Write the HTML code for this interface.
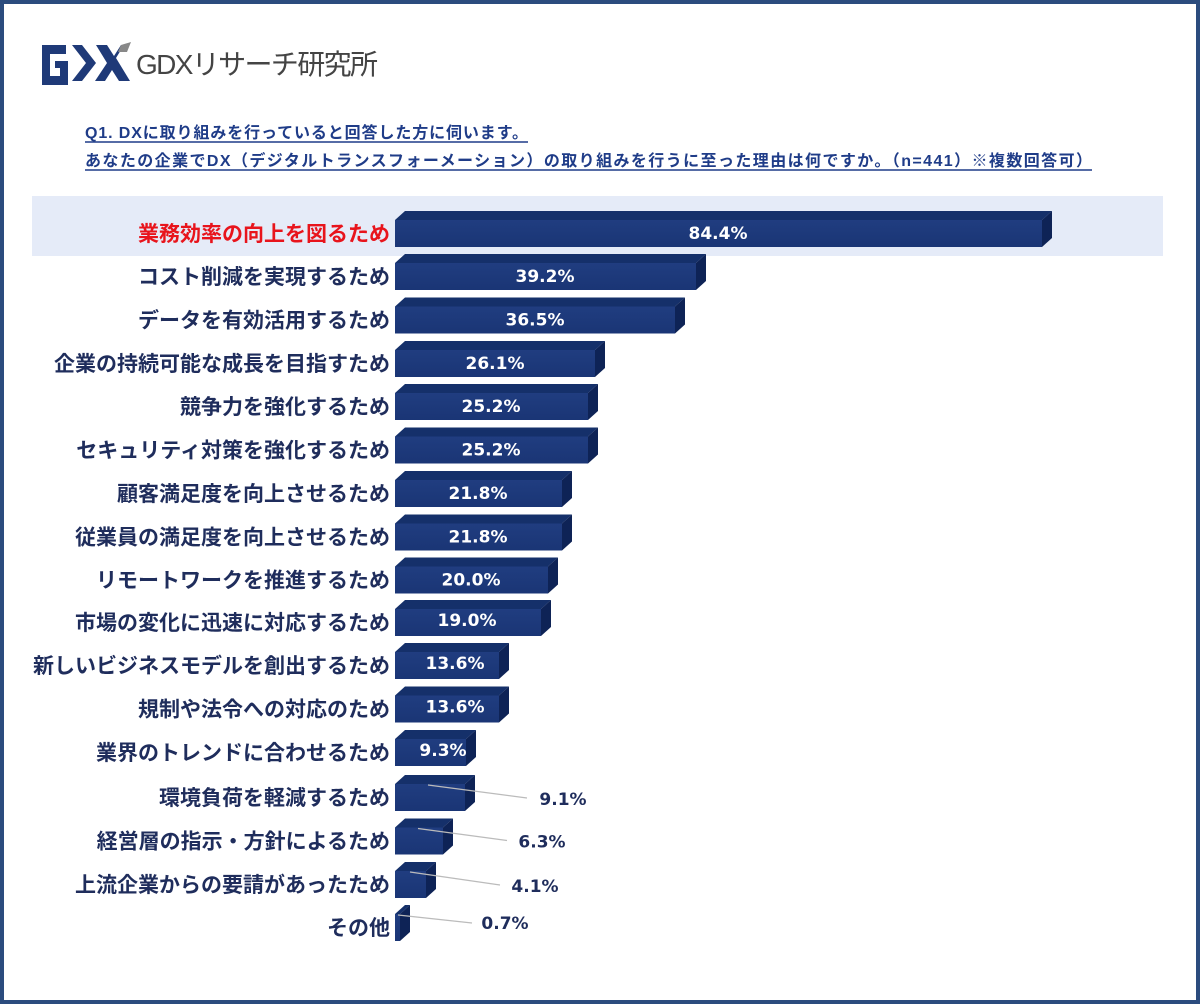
<!DOCTYPE html>
<html><head><meta charset="utf-8"><style>
html,body{margin:0;padding:0;background:#fff}
svg{display:block}
.l{font-family:"Liberation Sans","Noto Sans CJK JP",sans-serif;font-size:21px;font-weight:bold;fill:#1f2d5c;text-anchor:end}
.v{font-family:"DejaVu Sans","Liberation Sans",sans-serif;font-size:17px;font-weight:bold;fill:#fff;text-anchor:middle}
.o{font-family:"DejaVu Sans","Liberation Sans",sans-serif;font-size:17px;font-weight:bold;fill:#1f2d5c;text-anchor:middle}
.t{font-family:"Liberation Sans","Noto Sans CJK JP",sans-serif;font-size:16px;font-weight:bold;fill:#1f3c88}
.f{fill:url(#g)}.tp{fill:#15306a}.sd{fill:#0e2356}
</style></head><body>
<svg width="1200" height="1004" viewBox="0 0 1200 1004" xmlns="http://www.w3.org/2000/svg">
<defs><linearGradient id="g" x1="0" y1="0" x2="0" y2="1"><stop offset="0" stop-color="#203d80"/><stop offset="1" stop-color="#1a3575"/></linearGradient></defs>
<rect x="2" y="2" width="1196" height="1000" fill="#fff" stroke="#2b4c7e" stroke-width="4"/>
<g fill="#1f3a78">
<path d="M42 45 h24 v9 h-16 v22 h10 v-8 h-5 v-7 h13 v24 h-26 z"/>
<path d="M72 45 h10 l14 18 l-14 18 h-10 l14 -18 z"/>
<path d="M96 45 h11 l7 11 l7 -11 h3 l-8 13 l14 23 h-11 l-7 -11 l-7 11 h-10 l12 -18 z"/>
</g>
<polygon points="121,45 131,42 127,52 118,52" fill="#888"/>
<text x="136" y="74" font-family="Liberation Sans,Noto Sans CJK JP,sans-serif" font-size="28" fill="#444" textLength="242">GDXリサーチ研究所</text>
<text class="t" x="85" y="138" textLength="443">Q1. DXに取り組みを行っていると回答した方に伺います。</text>
<line x1="85" y1="142" x2="528" y2="142" stroke="#1f3c88" stroke-width="1.5"/>
<text class="t" x="85" y="166" textLength="1007">あなたの企業でDX（デジタルトランスフォーメーション）の取り組みを行うに至った理由は何ですか。（n=441）※複数回答可）</text>
<line x1="85" y1="170" x2="1092" y2="170" stroke="#1f3c88" stroke-width="1.5"/>
<rect x="32" y="196" width="1131" height="60" fill="#e5ebf8"/>

<g transform="translate(0,233)"><polygon class="tp" points="395,-13 405,-22 1052,-22 1042,-13"/><polygon class="sd" points="1042,-13 1052,-22 1052,5 1042,14"/><rect class="f" x="395" y="-13" width="647" height="27"/><text class="l" x="390" y="8" style="fill:#e8141c">業務効率の向上を図るため</text><text class="v" x="718" y="6">84.4%</text></g>
<g transform="translate(0,276)"><polygon class="tp" points="395,-13 405,-22 706,-22 696,-13"/><polygon class="sd" points="696,-13 706,-22 706,5 696,14"/><rect class="f" x="395" y="-13" width="301" height="27"/><text class="l" x="390" y="8">コスト削減を実現するため</text><text class="v" x="545" y="6">39.2%</text></g>
<g transform="translate(0,319.5)"><polygon class="tp" points="395,-13 405,-22 685,-22 675,-13"/><polygon class="sd" points="675,-13 685,-22 685,5 675,14"/><rect class="f" x="395" y="-13" width="280" height="27"/><text class="l" x="390" y="8">データを有効活用するため</text><text class="v" x="535" y="6">36.5%</text></g>
<g transform="translate(0,363)"><polygon class="tp" points="395,-13 405,-22 605,-22 595,-13"/><polygon class="sd" points="595,-13 605,-22 605,5 595,14"/><rect class="f" x="395" y="-13" width="200" height="27"/><text class="l" x="390" y="8">企業の持続可能な成長を目指すため</text><text class="v" x="495" y="6">26.1%</text></g>
<g transform="translate(0,406)"><polygon class="tp" points="395,-13 405,-22 598,-22 588,-13"/><polygon class="sd" points="588,-13 598,-22 598,5 588,14"/><rect class="f" x="395" y="-13" width="193" height="27"/><text class="l" x="390" y="8">競争力を強化するため</text><text class="v" x="491" y="6">25.2%</text></g>
<g transform="translate(0,449.5)"><polygon class="tp" points="395,-13 405,-22 598,-22 588,-13"/><polygon class="sd" points="588,-13 598,-22 598,5 588,14"/><rect class="f" x="395" y="-13" width="193" height="27"/><text class="l" x="390" y="8">セキュリティ対策を強化するため</text><text class="v" x="491" y="6">25.2%</text></g>
<g transform="translate(0,493)"><polygon class="tp" points="395,-13 405,-22 572,-22 562,-13"/><polygon class="sd" points="562,-13 572,-22 572,5 562,14"/><rect class="f" x="395" y="-13" width="167" height="27"/><text class="l" x="390" y="8">顧客満足度を向上させるため</text><text class="v" x="478" y="6">21.8%</text></g>
<g transform="translate(0,536.5)"><polygon class="tp" points="395,-13 405,-22 572,-22 562,-13"/><polygon class="sd" points="562,-13 572,-22 572,5 562,14"/><rect class="f" x="395" y="-13" width="167" height="27"/><text class="l" x="390" y="8">従業員の満足度を向上させるため</text><text class="v" x="478" y="6">21.8%</text></g>
<g transform="translate(0,579.5)"><polygon class="tp" points="395,-13 405,-22 558,-22 548,-13"/><polygon class="sd" points="548,-13 558,-22 558,5 548,14"/><rect class="f" x="395" y="-13" width="153" height="27"/><text class="l" x="390" y="8">リモートワークを推進するため</text><text class="v" x="471" y="6">20.0%</text></g>
<g transform="translate(0,622)"><polygon class="tp" points="395,-13 405,-22 551,-22 541,-13"/><polygon class="sd" points="541,-13 551,-22 551,5 541,14"/><rect class="f" x="395" y="-13" width="146" height="27"/><text class="l" x="390" y="8">市場の変化に迅速に対応するため</text><text class="v" x="467" y="4">19.0%</text></g>
<g transform="translate(0,665)"><polygon class="tp" points="395,-13 405,-22 509,-22 499,-13"/><polygon class="sd" points="499,-13 509,-22 509,5 499,14"/><rect class="f" x="395" y="-13" width="104" height="27"/><text class="l" x="390" y="8">新しいビジネスモデルを創出するため</text><text class="v" x="455" y="4">13.6%</text></g>
<g transform="translate(0,708.5)"><polygon class="tp" points="395,-13 405,-22 509,-22 499,-13"/><polygon class="sd" points="499,-13 509,-22 509,5 499,14"/><rect class="f" x="395" y="-13" width="104" height="27"/><text class="l" x="390" y="8">規制や法令への対応のため</text><text class="v" x="455" y="4">13.6%</text></g>
<g transform="translate(0,752)"><polygon class="tp" points="395,-13 405,-22 476,-22 466,-13"/><polygon class="sd" points="466,-13 476,-22 476,5 466,14"/><rect class="f" x="395" y="-13" width="71" height="27"/><text class="l" x="390" y="8">業界のトレンドに合わせるため</text><text class="v" x="443" y="4">9.3%</text></g>
<g transform="translate(0,797)"><polygon class="tp" points="395,-13 405,-22 475,-22 465,-13"/><polygon class="sd" points="465,-13 475,-22 475,5 465,14"/><rect class="f" x="395" y="-13" width="70" height="27"/><text class="l" x="390" y="8">環境負荷を軽減するため</text><line x1="428" y1="-12" x2="527" y2="1" stroke="#bbb" stroke-width="1.2"/><text class="o" x="563" y="8">9.1%</text></g>
<g transform="translate(0,840.5)"><polygon class="tp" points="395,-13 405,-22 453,-22 443,-13"/><polygon class="sd" points="443,-13 453,-22 453,5 443,14"/><rect class="f" x="395" y="-13" width="48" height="27"/><text class="l" x="390" y="8">経営層の指示・方針によるため</text><line x1="418" y1="-12" x2="507" y2="0" stroke="#bbb" stroke-width="1.2"/><text class="o" x="542" y="7">6.3%</text></g>
<g transform="translate(0,884)"><polygon class="tp" points="395,-13 405,-22 436,-22 426,-13"/><polygon class="sd" points="426,-13 436,-22 436,5 426,14"/><rect class="f" x="395" y="-13" width="31" height="27"/><text class="l" x="390" y="8">上流企業からの要請があったため</text><line x1="410" y1="-12" x2="500" y2="1" stroke="#bbb" stroke-width="1.2"/><text class="o" x="535" y="8">4.1%</text></g>
<g transform="translate(0,927)"><polygon class="tp" points="395,-13 405,-22 410,-22 400,-13"/><polygon class="sd" points="400,-13 410,-22 410,5 400,14"/><rect class="f" x="395" y="-13" width="5" height="27"/><text class="l" x="390" y="8">その他</text><line x1="398" y1="-12" x2="472" y2="-4" stroke="#bbb" stroke-width="1.2"/><text class="o" x="505" y="2">0.7%</text></g>
</svg>
</body></html>
